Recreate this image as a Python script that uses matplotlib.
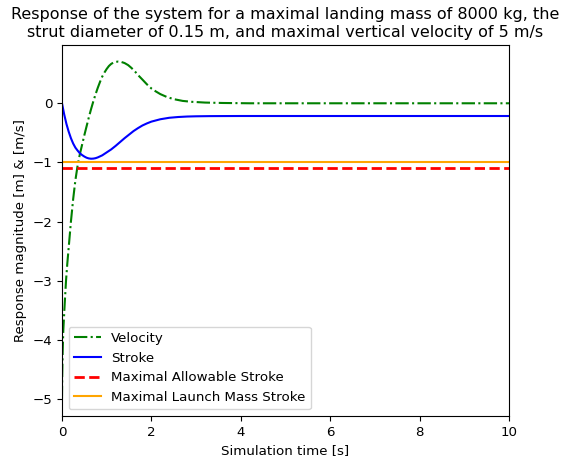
import matplotlib
matplotlib.use("Agg")
import matplotlib.pyplot as plt

# Simulated landing-gear response samples
t_velocity = [0, 0.005, 0.015, 0.03, 0.06, 0.09, 0.12, 0.16, 0.2, 0.25, 0.3,
              0.35, 0.4, 0.45, 0.5, 0.55, 0.6, 0.65, 0.7, 0.75, 0.8, 0.85, 0.9,
              0.95, 1.0, 1.05, 1.1, 1.15, 1.2, 1.26, 1.32, 1.4, 1.48, 1.55, 1.63,
              1.71, 1.8, 1.9, 2.0, 2.1, 2.2, 2.35, 2.5, 2.7, 2.9, 3.2, 3.6, 4.2,
              5.0, 10.0]
velocity = [-5.0, -4.6, -4.2, -3.83, -3.4, -3.0, -2.7, -2.35, -2.0, -1.62, -1.3,
            -1.05, -0.86, -0.7, -0.54, -0.39, -0.24, -0.1, 0.03, 0.15, 0.26, 0.36,
            0.45, 0.52, 0.58, 0.63, 0.665, 0.688, 0.7, 0.705, 0.7, 0.68, 0.645,
            0.6, 0.54, 0.47, 0.4, 0.32, 0.25, 0.2, 0.155, 0.105, 0.07, 0.04,
            0.025, 0.012, 0.005, 0.0, 0.0, 0.0]

t_stroke = [0, 0.05, 0.1, 0.15, 0.2, 0.25, 0.3, 0.35, 0.4, 0.45, 0.5, 0.55, 0.6,
            0.65, 0.7, 0.75, 0.8, 0.9, 1.0, 1.1, 1.2, 1.3, 1.4, 1.5, 1.6, 1.7,
            1.8, 1.9, 2.0, 2.2, 2.4, 2.6, 2.8, 3.0, 3.3, 3.6, 4.0, 5.0, 10.0]
stroke = [0.0, -0.19, -0.35, -0.48, -0.59, -0.68, -0.75, -0.8, -0.845, -0.875,
          -0.9, -0.92, -0.932, -0.937, -0.935, -0.928, -0.915, -0.88, -0.83,
          -0.78, -0.72, -0.655, -0.59, -0.53, -0.47, -0.42, -0.375, -0.34, -0.31,
          -0.27, -0.245, -0.232, -0.224, -0.22, -0.217, -0.216, -0.215, -0.215,
          -0.215]

max_allowable_stroke = -1.1
max_launch_mass_stroke = -1.0
t_end = 10

plt.rcParams["font.size"] = 9.6

fig = plt.figure(figsize=(5.64, 4.61), dpi=100)
ax = fig.add_axes([0.1099, 0.0976, 0.7926, 0.8048])

ax.plot(t_velocity, velocity, color="green", linestyle="-.", linewidth=1.5, label="Velocity")
ax.plot(t_stroke, stroke, color="blue", linestyle="-", linewidth=1.5, label="Stroke")
ax.axhline(max_allowable_stroke, color="red", linestyle="--", linewidth=2,
           label="Maximal Allowable Stroke")
ax.axhline(max_launch_mass_stroke, color="orange", linestyle="-", linewidth=1.5,
           label="Maximal Launch Mass Stroke")

ax.set_xlim(0, t_end)
ax.set_ylim(-5.285, 0.985)
ax.set_xlabel("Simulation time [s]")
ax.set_ylabel("Response magnitude [m] & [m/s]")
ax.set_title("Response of the system for a maximal landing mass of 8000 kg, the\n"
             "strut diameter of 0.15 m, and maximal vertical velocity of 5 m/s",
             fontsize=11.5)
ax.legend(loc="lower left")

fig.savefig("out.png", dpi=100)
